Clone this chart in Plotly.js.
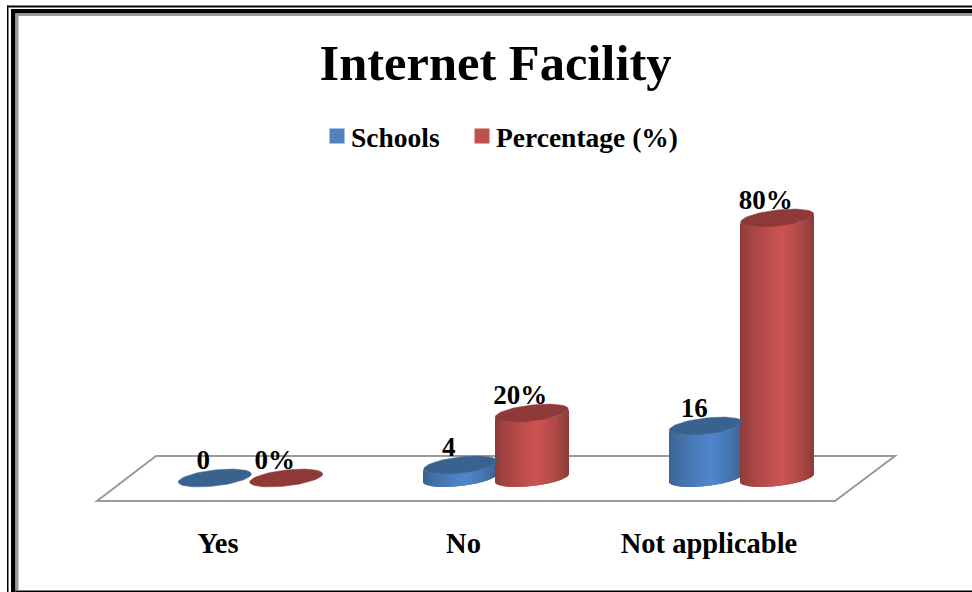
<!DOCTYPE html>
<html><head><meta charset="utf-8">
<script src="https://cdn.plot.ly/plotly-3.0.1.min.js"></script>
<style>html,body{margin:0;padding:0;background:#fff;overflow:hidden}#chart{width:972px;height:592px}
.legend .scrollbox,.legend .legendtoggle{clip-path:none !important}
.legend .legendsymbols{transform:translate(6px,0)}
</style>
</head><body><div id="chart"></div>
<script>
const categories = ["Yes", "No", "Not applicable"];
const schools = [0, 4, 16];
const percentage = [0, 20, 80];
const seriesNames = ["Schools", "Percentage (%)"];
const titleText = "Internet Facility";

const W = 972, H = 592, mT = 180, mB = 72;
const plotBottom = H - mB, plotH = H - mT - mB;
const pxPerCat = 245.5, pxPerVal = 3.25, zeroPx = 478, firstCatPx = 250.5;
const xRange = [-firstCatPx / pxPerCat, (W - firstCatPx) / pxPerCat];
const yRange = [(zeroPx - plotBottom) / pxPerVal, (zeroPx - mT) / pxPerVal];
const halfW = 36.5, capB = 8, capK = 4;
const NS = 73;
const FONT = '"Liberation Serif", serif';

const xOf = px => (px - firstCatPx) / pxPerCat;
const yOf = px => (zeroPx - px) / pxPerVal;
const pX = px => px / W;
const pY = px => (plotBottom - px) / plotH;

function mix(a, b, t) { return a.map((v, i) => Math.round(v + (b[i] - v) * t)); }
function shade(edge, mid, f) {
  const peak = 0.58;
  const t = f < peak ? f / peak : (1 - f) / (1 - peak);
  const c = mix(edge, mid, Math.pow(t, 0.7));
  return `rgb(${c[0]},${c[1]},${c[2]})`;
}

const looks = [
  { solid: "#4F81BD", edge: [58, 97, 143], mid: [80, 134, 205], cap: "#3A628F", off: -35.7 },
  { solid: "#C0504D", edge: [138, 58, 56], mid: [204, 84, 82], cap: "#8F3A38", off: 35.7 }
];
const values = [schools, percentage];
const labelFmt = [v => String(v), v => v + "%"];

const bars = [], texts = [], caps = [];
values.forEach((vals, s) => {
  const lk = looks[s];
  const dxData = lk.off / pxPerCat;
  bars.push({
    type: "bar", name: seriesNames[s], x: categories.map((_, i) => i + dxData), y: vals,
    width: vals.map(() => halfW / pxPerCat),
    marker: { color: lk.solid, line: { color: lk.solid, width: 3 } },
    hoverinfo: "skip", legendgroup: seriesNames[s]
  });
  const xs = [], ys = [], bases = [], cols = [];
  vals.forEach((v, i) => {
    for (let k = 0; k < NS; k++) {
      const f = (k + 0.5) / NS, c = 2 * f - 1;
      const up = capK * c - capB * Math.sqrt(1 - c * c);
      xs.push(i + dxData + c * halfW / pxPerCat);
      ys.push(v);
      bases.push(up / pxPerVal);
      cols.push(shade(lk.edge, lk.mid, f));
    }
  });
  bars.push({
    type: "bar", x: xs, y: ys, base: bases, showlegend: false, hoverinfo: "skip",
    width: xs.map(() => 2 * halfW / NS / pxPerCat),
    marker: { color: cols, line: { width: 0 } }, legendgroup: seriesNames[s]
  });
  texts.push({
    type: "scatter", mode: "text", showlegend: false, hoverinfo: "skip", cliponaxis: false,
    x: categories.map((_, i) => i + (lk.off - 11.5) / pxPerCat),
    y: vals.map(v => v + 16 / pxPerVal),
    text: vals.map(labelFmt[s]), textposition: "middle center",
    textfont: { family: FONT, size: 27, color: "#000", weight: 700 }
  });
  vals.forEach((v, i) => {
    const cx = [], cy = [];
    for (let a = 0; a <= 72; a++) {
      const t = a / 72 * 2 * Math.PI;
      cx.push(i + dxData + Math.cos(t) * halfW / pxPerCat);
      cy.push(v + (capK * Math.cos(t) + capB * Math.sin(t)) / pxPerVal);
    }
    caps.push({
      type: "scatter", mode: "lines", x: cx, y: cy, fill: "toself", fillcolor: lk.cap,
      line: { color: lk.cap, width: 0.5 }, showlegend: false, hoverinfo: "skip"
    });
  });
});

function rect(x0, y0, x1, y1, color) {
  return { type: "rect", xref: "paper", yref: "paper", x0: pX(x0), x1: pX(x1), y0: pY(y0), y1: pY(y1),
    fillcolor: color, line: { width: 0 }, layer: "above" };
}
const frame = [
  rect(7, 5.5, 8.5, H, "#000"), rect(7, 5.5, W, 7.5, "#000"),
  rect(11, 9, 15.5, H, "#000"), rect(11, 9, W, 13.5, "#000"),
  rect(15.5, 13.5, 18.5, 590, "#999"), rect(15.5, 13.5, W, 16, "#999"),
  rect(15.5, 590.5, W, H, "#000")
];
const floorPts = [[97, 501], [835, 501], [895, 456], [156, 456]];
const floor = {
  type: "path", xref: "x", yref: "y", layer: "below", fillcolor: "#fff",
  line: { color: "#9A9A9A", width: 2 },
  path: floorPts.map((p, i) => (i ? "L" : "M") + xOf(p[0]) + "," + yOf(p[1])).join(" ") + " Z"
};

Plotly.newPlot("chart", [...bars, ...texts, ...caps], {
  width: W, height: H, margin: { l: 0, r: 0, t: mT, b: mB }, paper_bgcolor: "#fff", plot_bgcolor: "rgba(0,0,0,0)",
  barmode: "overlay", showlegend: true,
  title: { text: titleText, x: 495.5 / W, xanchor: "center", xref: "paper", y: 1 - 62 / H, yanchor: "middle",
    font: { family: FONT, size: 50.5, color: "#000", weight: 700 } },
  legend: { orientation: "h", x: pX(311), xanchor: "left", y: pY(136), yanchor: "middle", bgcolor: "rgba(0,0,0,0)",
    font: { family: FONT, size: 27.5, color: "#000", weight: 700 }, entrywidth: 100, entrywidthmode: "pixels" },
  xaxis: { range: xRange, showgrid: false, zeroline: false, showline: false, ticks: "", ticklen: 0,
    tickmode: "array", tickvals: categories.map((_, i) => i - 32.5 / pxPerCat), ticktext: categories,
    ticklabelstandoff: 3, tickfont: { family: FONT, size: 28.5, color: "#000", weight: 700 }, automargin: false, fixedrange: true },
  yaxis: { range: yRange, visible: false, fixedrange: true },
  shapes: [floor, ...frame]
}, { displayModeBar: false });
</script></body></html>
